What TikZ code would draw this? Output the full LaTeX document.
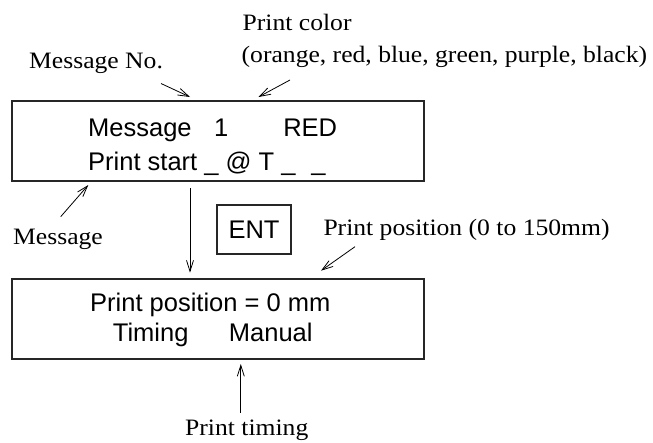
\documentclass[tikz,border=0pt]{standalone}
\usepackage{fontspec}
\setmainfont{Liberation Serif}
\newfontfamily\arialf{Liberation Sans}
\usetikzlibrary{arrows.meta}
\newcommand{\stretchtext}[1]{\scalebox{1.09}[1]{#1}}
\begin{document}
\begin{tikzpicture}[x=1pt,y=-1pt,
  boxst/.style={draw=black!85, line width=1.7pt, minimum width=412pt, minimum height=80pt, inner sep=0pt},
  entst/.style={draw=black!85, line width=1.4pt, minimum width=74pt, minimum height=49pt, inner sep=0pt, font=\arialf\fontsize{25.5}{30}\selectfont},
  sans/.style={anchor=base west, inner sep=0pt, font=\arialf\fontsize{25.5}{30}\selectfont},
  lbl/.style={anchor=base west, inner sep=0pt, font=\fontsize{23.5}{28}\selectfont},
  arr/.style={line width=0.8pt, -{Straight Barb[length=11pt,width=7pt]}}]
\useasboundingbox (0,0) rectangle (653,442);
% boxes
\node[boxst] (b1) at (217.9,141) {};
\node[boxst] (b2) at (217.9,319) {};
\node[entst] (ent) at (254,229.5) {ENT};
% box texts
\node[sans] (t1a) at (88,136.7) {Message\hspace{22.5pt}1\hspace{55pt}RED};
\node[sans] (t1b) at (88,170) {Print start \_ @ T \_\hspace{16pt}\_};
\node[sans] (t2a) at (90,311.7) {Print position = 0 mm};
\node[sans] (t2b) at (112.7,341) {Timing\hspace{40.5pt}Manual};
% labels
\node[lbl] (lcolor) at (242.5,30) {\stretchtext{Print color}};
\node[lbl] (lcolors) at (241.5,62) {\stretchtext{(orange, red, blue, green, purple, black)}};
\node[lbl] (lno) at (29,68) {\stretchtext{Message No.}};
\node[lbl] (lmsg) at (13,244) {\stretchtext{Message}};
\node[lbl] (lpos) at (323.3,235.5) {\stretchtext{Print position (0 to 150mm)}};
\node[lbl] (ltim) at (185,435) {\stretchtext{Print timing}};
% arrow end points
\coordinate (a1s) at (161,83.5);   \coordinate (a1e) at (190,97);
\coordinate (a2s) at (290,80);     \coordinate (a2e) at (258.5,97);
\coordinate (a3s) at (60.7,216.7); \coordinate (a3e) at (88.3,185);
\coordinate (a5s) at (355,246.7);  \coordinate (a5e) at (321,270.7);
\coordinate (a6s) at (240.8,412.7);\coordinate (a6e) at (240.8,364);
\coordinate (dx) at (190,0);
% arrows
\draw[arr] (a1s) -- (a1e);
\draw[arr] (a2s) -- (a2e);
\draw[arr] (a3s) -- (a3e);
\draw[arr] (a5s) -- (a5e);
\draw[arr] (a6s) -- (a6e);
\draw[arr, shorten <=6.5pt, shorten >=5.5pt] (b1.south -| dx) -- (b2.north -| dx);
\end{tikzpicture}
\end{document}
